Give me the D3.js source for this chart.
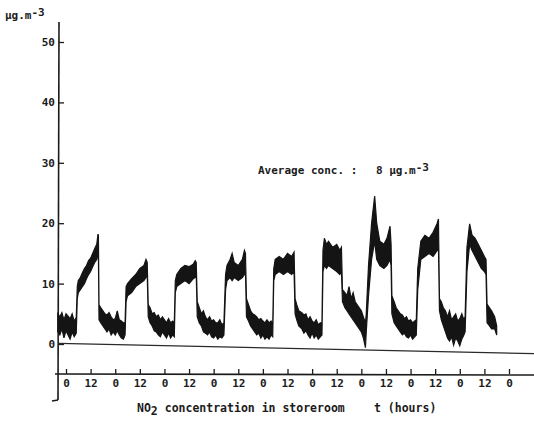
<!DOCTYPE html>
<html>
<head>
<meta charset="utf-8">
<script src="https://cdn.jsdelivr.net/npm/d3@7"></script>
<style>
  body { margin: 0; background: #fff; }
  text { font-family: "DejaVu Sans Mono", monospace; fill: #1b1b1b; font-weight: bold; }
</style>
</head>
<body>
<div id="chart-area"></div>
<script>
// time in hours, lower and upper edge of the recorded trace (µg.m-3)
var hours = [-4,-3,-2,-1,0,1,2,3,4,5,5.5,6,7,8,9,10,11,12,13,14,15,15.6,15.8,16.1,17,18,19,20,21,22,23,24,25,26,27,28,28.8,
    29.3,30,32,34,36,38,39,39.6,40.1,41,42,43,44,45,46,47,48,49,50,51,52,52.8,
    53.3,54,56,58,60,62,63,63.5,64,65,66,67,68,69,70,71,72,73,74,75,76,77,
    77.8,78.5,80,81,82,84,86,87,87.5,88,89,90,91,92,93,94,95,96,97,98,99,100,100.8,
    101.3,102,104,106,108,110,111.2,111.7,112.5,113.5,115,116,117,118,119,120,121,122,123,124,124.8,
    125.3,126,127,128,130,132,133.5,134.3,134.8,136,137,138,139,140,141,142,143,144,145,146,146.4,
    147.5,149,150.5,151.5,153,155,156.5,158,158.5,158.9,160,161,162,163,164,165,166,167,168,169,170,170.8,
    171.5,173,175,177,179,181,181.6,182.1,183,184,185,186,187,188,189,190,191,192,193,194,194.6,
    195.5,196.8,198,199.5,201,202.5,204,204.8,205.3,206.5,207.5,209,210];
var low = [2.0,1.5,2.5,1.0,2.2,1.5,0.8,2.0,1.2,1.8,7.5,8.5,9.0,9.5,10.0,10.8,11.5,12.0,12.8,13.5,14.0,15.0,14.5,4.0,3.5,3.0,2.5,2.0,2.5,1.5,2.0,1.5,2.2,1.5,1.0,0.8,1.5,
    7.0,8.0,8.5,9.5,10.0,10.5,11.0,11.5,4.5,3.5,3.0,2.2,2.0,1.5,1.2,2.0,1.5,1.0,1.8,1.0,1.5,1.2,
    8.5,9.5,10.0,10.5,10.0,10.8,11.0,11.5,4.5,3.5,3.0,2.0,1.8,1.5,2.0,1.2,1.0,1.5,0.8,1.2,1.0,1.5,
    9.0,10.5,11.0,10.5,11.0,10.5,11.0,11.5,12.0,4.5,3.8,3.0,2.5,2.0,1.5,1.8,1.0,1.5,0.8,1.2,0.8,1.5,1.2,
    10.5,11.5,12.0,11.5,12.0,11.5,12.0,5.0,4.0,3.0,2.5,1.8,2.2,1.5,1.0,1.8,1.0,1.5,0.8,1.2,1.5,
    12.0,13.0,12.5,13.0,12.5,12.0,11.5,12.0,7.0,6.0,5.5,5.0,4.5,4.0,3.5,3.0,2.5,2.0,1.0,-0.6,2.0,
    8.0,14.0,17.0,14.0,13.0,12.5,13.0,14.0,13.0,5.0,3.5,3.0,2.5,2.0,1.5,1.8,1.2,1.0,1.5,0.8,1.2,1.5,
    9.0,14.0,14.5,15.0,14.5,15.5,16.0,5.5,4.0,3.0,2.0,1.0,0.5,1.2,-0.2,1.0,0.5,-0.3,0.8,1.5,2.0,
    12.0,16.5,15.5,14.5,13.5,12.5,12.0,11.5,3.5,3.0,2.5,2.5,1.5];
var high = [5.0,4.5,5.2,4.0,5.0,4.6,4.2,5.0,3.8,4.4,9.5,10.5,11.0,11.8,12.5,13.0,13.8,14.2,15.0,15.8,16.5,18.2,18.0,6.5,6.0,5.5,5.0,4.8,5.2,4.5,4.0,4.2,5.5,4.0,3.8,3.5,3.5,
    9.5,10.0,10.8,11.5,12.5,13.0,14.0,13.5,6.5,6.0,5.0,5.2,4.5,4.8,4.0,4.5,4.0,3.5,4.2,3.5,3.8,3.5,
    10.5,11.5,12.5,13.0,12.8,13.2,13.8,13.5,7.0,6.0,5.0,5.5,4.5,4.0,4.5,3.8,4.0,3.5,3.5,4.0,3.2,3.5,
    11.5,13.0,14.0,15.0,13.5,13.0,14.0,15.5,15.0,7.5,6.5,5.5,5.0,4.8,4.5,4.0,4.2,3.8,3.5,4.0,3.5,3.8,3.2,
    12.5,14.0,14.5,14.0,15.0,14.5,15.2,7.5,6.5,5.5,5.2,4.8,5.0,4.0,4.5,3.8,3.5,4.0,3.2,3.5,3.5,
    15.5,17.5,16.5,17.0,16.0,16.5,15.5,16.0,9.0,8.5,8.0,9.5,7.5,8.5,7.0,6.5,6.0,5.5,4.5,3.5,5.0,
    13.0,20.0,24.5,20.0,17.0,16.5,17.5,19.5,16.5,8.0,7.0,6.0,5.5,5.0,4.8,4.2,4.5,3.8,4.0,3.5,3.8,4.0,
    12.5,17.0,18.0,17.5,18.5,20.0,20.7,7.5,7.0,6.0,5.5,4.5,5.5,4.0,4.5,5.0,3.8,4.2,5.0,4.0,4.5,
    16.0,19.9,18.0,17.5,16.5,15.5,14.5,14.0,6.6,6.0,5.5,4.5,3.0];
var baseHours = [-4, 230];
var baseValues = [0.1, -1.6];
var yTicks = [0, 10, 20, 30, 40, 50];
var xTicks = d3.range(0, 217, 12);

var width = 534, height = 423;
var svg = d3.select("#chart-area").append("svg")
    .attr("width", width)
    .attr("height", height);

var x = d3.scaleLinear().domain([0, 216]).range([66, 509]);
var y = d3.scaleLinear().domain([0, 50]).range([344, 42]);
var axisY = 374;

// vertical axis
svg.append("line")
    .attr("x1", 59).attr("x2", 58)
    .attr("y1", 22).attr("y2", 400)
    .attr("stroke", "#1b1b1b").attr("stroke-width", 1.6);
svg.append("line")
    .attr("x1", 58).attr("x2", 52)
    .attr("y1", 400).attr("y2", 401)
    .attr("stroke", "#1b1b1b").attr("stroke-width", 1.4);
var gy = svg.append("g")
    .attr("transform", "translate(59,0)")
    .call(d3.axisLeft(y).tickValues(yTicks).tickSize(-5).tickPadding(4));
gy.select(".domain").remove();
gy.selectAll(".tick line").attr("stroke", "#1b1b1b").attr("stroke-width", 1.3);
gy.selectAll(".tick text").attr("font-size", 11).attr("font-family", "DejaVu Sans Mono").attr("fill", "#1b1b1b");

svg.append("text")
    .attr("x", 5).attr("y", 19)
    .attr("font-size", 11)
    .text("µg.m")
    .append("tspan").text("-3").attr("dy", -3);

// zero line of the recorder
svg.append("path")
    .datum(d3.zip(baseHours, baseValues))
    .attr("fill", "none")
    .attr("stroke", "#2a2a2a")
    .attr("stroke-width", 1.3)
    .attr("d", d3.line().x(function (d) { return Math.max(59, x(d[0])); }).y(function (d) { return y(d[1]); }));

// time axis
var gx = svg.append("g")
    .attr("transform", "translate(0," + axisY + ")")
    .call(d3.axisBottom(x).tickValues(xTicks).tickSize(-5).tickPadding(5)
        .tickFormat(function (d) { return d % 24; }));
gx.select(".domain").remove();
gx.selectAll(".tick line").attr("stroke", "#1b1b1b").attr("stroke-width", 1.3);
gx.selectAll(".tick text").attr("font-size", 11).attr("font-family", "DejaVu Sans Mono").attr("fill", "#1b1b1b");
svg.append("line")
    .attr("x1", 55).attr("x2", width)
    .attr("y1", axisY).attr("y2", axisY + 1)
    .attr("stroke", "#1b1b1b").attr("stroke-width", 1.6);

// trace
var band = hours.map(function (h, i) { return {t: h, lo: low[i], hi: high[i]}; });
svg.append("path")
    .datum(band)
    .attr("fill", "#141414")
    .attr("stroke", "#141414")
    .attr("stroke-width", 1.2)
    .attr("d", d3.area()
        .x(function (d) { return x(d.t); })
        .y0(function (d) { return y(d.lo); })
        .y1(function (d) { return y(d.hi); }));

// labels
var avg = svg.append("text")
    .attr("x", 258).attr("y", 174)
    .attr("font-size", 11);
avg.append("tspan").text("Average conc. :");
avg.append("tspan").attr("x", 376).text("8 µg.m");
avg.append("tspan").text("-3").attr("dy", -3);

var title = svg.append("text")
    .attr("x", 137).attr("y", 412)
    .attr("font-size", 11.5);
title.append("tspan").text("NO");
title.append("tspan").text("2").attr("dy", 3);
title.append("tspan").text(" concentration in storeroom").attr("dy", -3);

svg.append("text")
    .attr("x", 374).attr("y", 412)
    .attr("font-size", 11.5)
    .text("t (hours)");
</script>
</body>
</html>
